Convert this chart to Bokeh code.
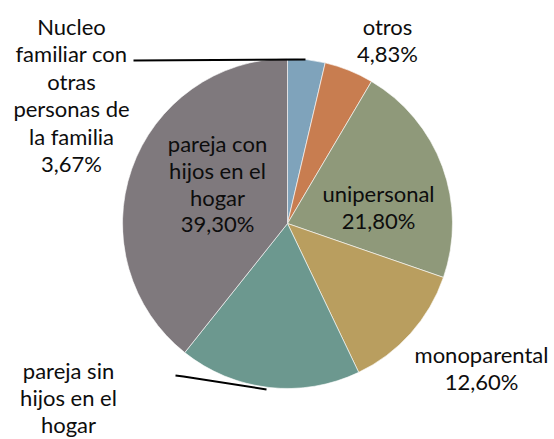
import numpy as np
from bokeh.plotting import figure
from bokeh.models import Range1d, ColumnDataSource
from bokeh.core.properties import value
from bokeh.embed import file_html
from bokeh.resources import INLINE

# ---- data ----
categories = ["Nucleo familiar con otras personas de la familia", "otros", "unipersonal",
              "monoparental", "pareja sin hijos en el hogar", "pareja con hijos en el hogar"]
shares = [3.67, 4.83, 21.80, 12.60, 17.80, 39.30]
colors = ["#7FA3BB", "#C87D50", "#8F997A", "#B99E5F", "#6C988F", "#7F797D"]
label_lines = [
    ["Nucleo", "familiar con", "otras", "personas de", "la familia", "3,67%"],
    ["otros", "4,83%"],
    ["unipersonal", "21,80%"],
    ["monoparental", "12,60%"],
    ["pareja sin", "hijos en el", "hogar"],
    ["pareja con", "hijos en el", "hogar", "39,30%"],
]

W, H = 554, 439
TXT_SHIFT = -7  # compensates for svg baseline placement

def Y(py):
    return H - py

p = figure(width=W, height=H, output_backend="svg", toolbar_location=None,
           x_range=Range1d(0, W), y_range=Range1d(0, H), min_border=0)
p.axis.visible = False
p.grid.visible = False
p.outline_line_color = None
p.background_fill_color = "white"

cx, cy, r = 287, Y(223), 165
fr = np.array(shares) / np.sum(shares)
cum = np.concatenate([[0], np.cumsum(fr)])
start = np.pi / 2 - cum[:-1] * 2 * np.pi
end = np.pi / 2 - cum[1:] * 2 * np.pi
src = ColumnDataSource(dict(start=start, end=end, color=colors))
p.wedge(x=cx, y=cy, radius=r, start_angle="start", end_angle="end", direction="clock",
        fill_color="color", line_color="white", line_width=0.6, source=src)

# leader lines
p.line(x=[133, 305], y=[Y(60), Y(59)], line_color="black", line_width=2)
p.line(x=[175, 183, 266], y=[Y(375), Y(376), Y(389)], line_color="black", line_width=2)

# label anchors (center x, first baseline, line gap)
anchors = [(71, 33, 27.4), (387, 33, 27), (378, 200, 27), (481, 361, 27),
           (68, 377, 27), (217, 150, 26.8)]
xs, ys, ts = [], [], []
for (ax, ay, gap), lines in zip(anchors, label_lines):
    for i, t in enumerate(lines):
        xs.append(ax); ys.append(Y(ay + i * gap + TXT_SHIFT)); ts.append(t)
p.text(x=xs, y=ys, text=ts, text_align="center", text_baseline="alphabetic",
       text_font=value("Lato"), text_font_size="22px", text_color="#0d0d0d")

open("out.html", "w").write(file_html(p, INLINE))
